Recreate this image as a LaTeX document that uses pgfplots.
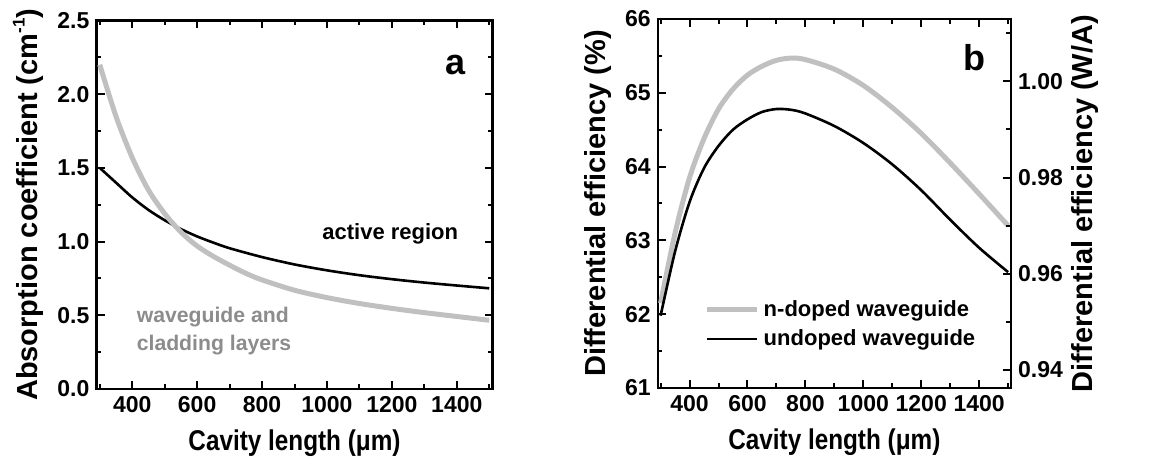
\documentclass[border=0pt]{standalone}
\usepackage{fontspec}
\setmainfont{Liberation Sans}
\newfontfamily\xlabfont[FakeStretch=0.85]{Liberation Sans}
\usepackage{pgfplots}
\usepackage{pgfplotstable}
\pgfplotsset{compat=1.18}
\definecolor{lgray}{RGB}{192,192,192}
\definecolor{tgray}{RGB}{140,140,140}

\pgfplotstableread{
x y
300 2.20
350 1.85
400 1.57
450 1.35
500 1.19
550 1.065
600 0.97
650 0.90
700 0.84
750 0.785
800 0.74
900 0.67
1000 0.62
1100 0.58
1200 0.547
1300 0.518
1400 0.492
1500 0.466
}\tabwg
\pgfplotstableread{
x y
300 1.50
350 1.40
400 1.30
450 1.215
500 1.145
550 1.085
600 1.035
650 0.993
700 0.955
800 0.895
900 0.845
1000 0.805
1100 0.772
1200 0.745
1300 0.722
1400 0.702
1500 0.683
}\tabact
\pgfplotstableread{
x y
300 62.15
350 63.10
400 63.85
450 64.38
500 64.78
550 65.05
600 65.24
650 65.36
700 65.44
750 65.47
800 65.45
900 65.32
1000 65.10
1100 64.80
1200 64.45
1300 64.05
1400 63.63
1500 63.20
}\tabnd
\pgfplotstableread{
x y
300 61.98
350 62.85
400 63.52
450 63.98
500 64.28
550 64.50
600 64.64
650 64.74
700 64.78
750 64.77
800 64.72
900 64.55
1000 64.32
1100 64.03
1200 63.68
1300 63.28
1400 62.90
1500 62.57
}\tabud

\pgfplotsset{
  common/.style={
    scale only axis,
    xmin=290, xmax=1510,
    xtick={400,600,...,1400},
    minor xtick={300,500,...,1500},
    tick align=inside,
    major tick length=4pt, minor tick length=2.3pt,
    every tick/.style={line width=1pt, black},
    axis line style={line width=1.2pt},
    tick label style={font=\fontsize{11.5}{13}\selectfont\bfseries},
    /pgf/number format/assume math mode=true,
    /pgf/number format/1000 sep={},
    scaled ticks=false,
    every axis x label/.style={at={(axis description cs:0.5,-0.146)},anchor=center,inner sep=0pt,
      font=\xlabfont\fontsize{14.3}{16}\selectfont\bfseries},
    xlabel={Cavity length (μm)},
    clip=false,
  },
  ylab/.style={every axis y label/.style={at={(axis description cs:#1,0.5)},anchor=center,rotate=90,inner sep=0pt,
      font=\fontsize{14.5}{16}\selectfont\bfseries}},
}

\begin{document}
\begin{tikzpicture}
\path (0,0) rectangle (577.5pt,229.5pt);
% ---------- panel a ----------
\begin{axis}[common,
  at={(48.25pt,35pt)}, anchor=south west,
  width=198pt, height=184.25pt,
  ymin=0, ymax=2.5,
  ytick={0,0.5,...,2.5},
  minor ytick={0.25,0.75,...,2.25},
  yticklabel style={/pgf/number format/.cd,fixed,fixed zerofill,precision=1},
  ylab=-0.172,
  ylabel={Absorption coefficient (cm\raisebox{0.85ex}{\fontsize{8.5}{9}\selectfont -1})},
]
\addplot[black, line width=1.3pt, smooth] table {\tabact};
\addplot[lgray, line width=2.5pt, smooth] table {\tabwg};
\node[font=\fontsize{18}{20}\selectfont\bfseries] at (axis cs:1395,2.20) {a};
\node[font=\fontsize{11}{13}\selectfont\bfseries] at (axis cs:1195,1.05) {active region};
\node[font=\fontsize{10.6}{13}\selectfont\bfseries, text=tgray, anchor=west, inner sep=0pt] at (axis cs:413,0.485) {waveguide and};
\node[font=\fontsize{10.6}{13}\selectfont\bfseries, text=tgray, anchor=west, inner sep=0pt] at (axis cs:413,0.30) {cladding layers};
\end{axis}
% ---------- panel b ----------
\begin{axis}[common,
  at={(328.85pt,35.5pt)}, anchor=south west,
  width=176.65pt, height=184.5pt,
  ymin=61, ymax=66,
  ytick={61,...,66},
  minor ytick={61.5,62.5,...,65.5},
  ytick pos=left,
  ylab=-0.17,
  ylabel={Differential efficiency (\%)},
  legend style={draw=none, fill=none, at={(axis description cs:0.115,0.26)}, anchor=north west,
    font=\fontsize{11}{12}\selectfont\bfseries, row sep=1pt,
    /tikz/every even column/.append style={column sep=7pt}},
  legend cell align=left,
  legend image code/.code={\draw[#1] (0pt,0pt) -- (25pt,0pt);},
]
\addplot[lgray, line width=2.5pt, smooth] table {\tabnd};
\addlegendentry{n-doped waveguide}
\addplot[black, line width=1.3pt, smooth] table {\tabud};
\addlegendentry{undoped waveguide}
\node[font=\fontsize{18}{20}\selectfont\bfseries] at (axis cs:1383,65.47) {b};
\end{axis}
\begin{axis}[common,
  at={(328.85pt,35.5pt)}, anchor=south west,
  width=176.65pt, height=184.5pt,
  ymin=0.93623, ymax=1.01297,
  axis x line=none,
  axis y line*=right,
  ytick={0.94,0.96,0.98,1.00},
  minor ytick={0.95,0.97,0.99,1.01},
  yticklabel style={/pgf/number format/.cd,fixed,fixed zerofill,precision=2},
  ylab=1.209,
  ylabel={Differential efficiency (W/A)},
  xlabel={},
]
\end{axis}
\end{tikzpicture}
\end{document}
